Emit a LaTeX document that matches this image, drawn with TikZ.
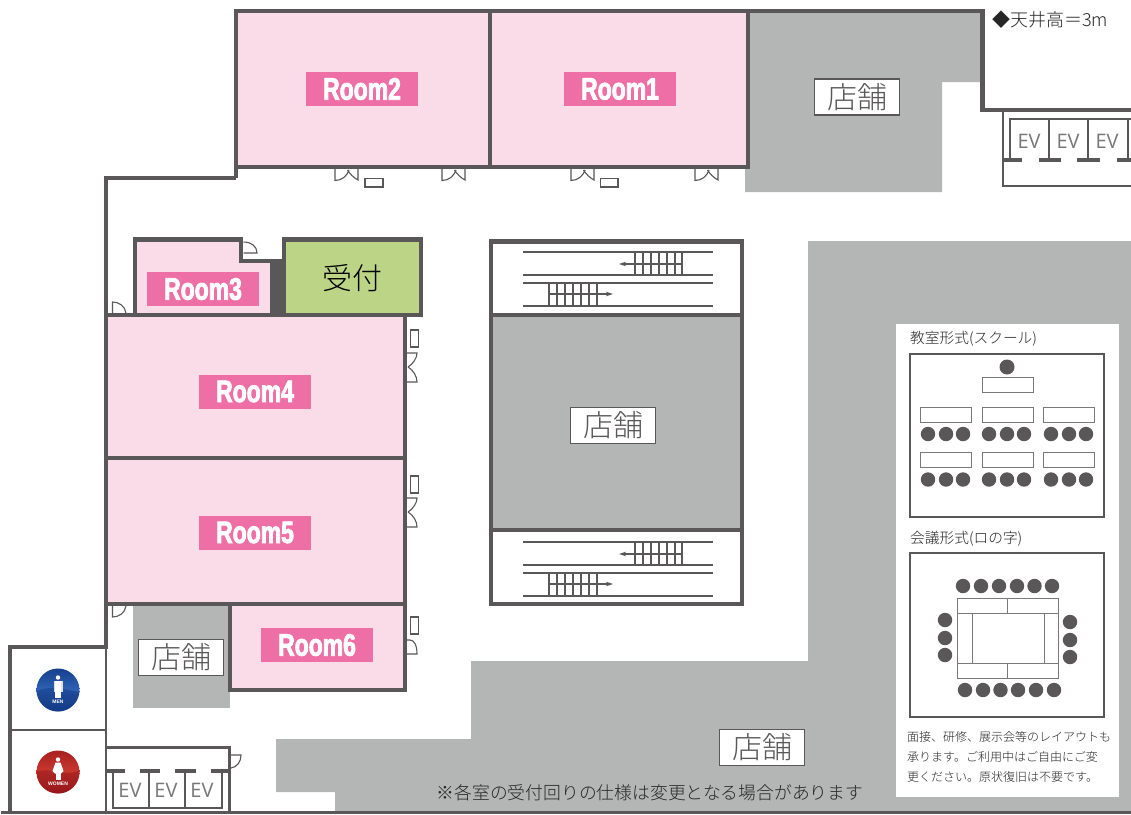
\documentclass[tikz,border=0pt]{standalone}
\usepackage{fontspec}
\usetikzlibrary{arrows.meta}
\setmainfont{Noto Sans CJK JP}
\newfontfamily\lightcjk{Noto Sans CJK JP Light}
\newfontfamily\roomfont[FakeStretch=0.74,FakeBold=2.6,UprightFont=* Bold]{Liberation Sans}
\newfontfamily\evfont{Open Sans}
\definecolor{wall}{HTML}{595757}
\definecolor{shop}{HTML}{B4B5B5}
\definecolor{pinkroom}{HTML}{F9DCE8}
\definecolor{pinklabel}{HTML}{EE6FA6}
\definecolor{recept}{HTML}{BBD486}
\definecolor{evgray}{HTML}{777777}
\definecolor{mena}{HTML}{173F8F}
\definecolor{menb}{HTML}{2F62B4}
\definecolor{menc}{HTML}{143A86}
\definecolor{wma}{HTML}{A8201F}
\definecolor{wmb}{HTML}{C8392F}
\definecolor{wmc}{HTML}{98171C}
\tikzset{
  x=1pt,y=-1pt,
  wallline/.style={draw=wall,line width=4.5pt},
  thinwall/.style={draw=wall,line width=2.5pt},
  roomshape/.style={fill=pinkroom,draw=wall,line width=4.5pt},
  door/.style={draw=wall,line width=1.1pt},
  roomlabel/.style={fill=pinklabel,text=white,minimum width=112pt,minimum height=34pt,inner sep=0pt,font=\roomfont\fontsize{31}{31}\selectfont},
  shoplabel/.style={fill=white,draw=wall,line width=1.8pt,text=wall,minimum width=85pt,minimum height=36pt,inner sep=0pt,font=\lightcjk\fontsize{30}{30}\selectfont},
  evlabel/.style={text=evgray,inner sep=0pt,font=\evfont\fontsize{20}{20}\selectfont},
  seat/.style={fill=wall,draw=none},
  desk/.style={draw=wall!80,fill=white,line width=1pt},
  stairline/.style={draw=wall,line width=2pt},
  tread/.style={draw=wall,line width=1.1pt},
  caption/.style={anchor=west,inner sep=0pt,text=black!85,font=\lightcjk\fontsize{14.7}{14.7}\selectfont},
  noteline/.style={anchor=west,inner sep=0pt,text=black!85,font=\lightcjk\fontsize{12}{12}\selectfont},
}
\newcommand{\doubledoorH}[1]{\draw[door,shift={(#1,169)}] (0,0)--(0,11.5) .. controls (7,11.5) and (12,7) .. (14,1) (23,0)--(23,11) .. controls (19,9) and (15,5) .. (12.5,1);}
\newcommand{\doubledoorV}[1]{\draw[door,shift={(407,#1)}] (0,0)--(10,0) .. controls (10,5) and (6,11) .. (1,14) (0,29)--(10,29) .. controls (10,23) and (6,17) .. (1,14);}
\newcommand{\stairs}[1]{%
  \begin{scope}[shift={(0,#1)}]
    \foreach \yy in {252,275,283,306} \draw[stairline] (523,\yy)--(713,\yy);
    \foreach \xx in {635,643,651,659,667,675,682} \draw[tread] (\xx,252)--(\xx,275);
    \foreach \xx in {549,557,565,573,581,589,597} \draw[tread] (\xx,283)--(\xx,306);
    \draw[tread,-{Stealth[length=7pt,width=4.5pt]}] (682,264)--(619,264);
    \draw[tread,-{Stealth[length=7pt,width=4.5pt]}] (549,294)--(613,294);
  \end{scope}}
\begin{document}
\begin{tikzpicture}
\useasboundingbox (0,0) rectangle (1131,814);
\fill[white] (0,0) rectangle (1131,814);
% shops
\fill[shop] (745,12)--(982,12)--(982,82)--(942,82)--(942,192)--(745,192)--cycle;
\fill[shop] (808,241)--(1131,241)--(1131,812)--(335,812)--(335,792)--(276,792)--(276,739)--(471,739)--(471,661)--(808,661)--cycle;
\fill[shop] (133,604) rectangle (230,708);
\fill[white] (896,324) rectangle (1119,797);
% rooms
\draw[roomshape] (236,11) rectangle (490,167);
\draw[roomshape] (490,11) rectangle (748,167);
\draw[roomshape] (135,239.5)--(241,239.5)--(241,261)--(272,261)--(272,315)--(135,315)--cycle;
\fill[wall] (270,259) rectangle (285,316);
\draw[wallline,fill=recept] (284,239.5) rectangle (421,315);
\draw[roomshape] (106,315) rectangle (405,458);
\draw[roomshape] (106,458) rectangle (405,604);
\draw[roomshape] (230,604) rectangle (405,690);
% outer walls
\draw[wallline,line width=4pt] (236,178)--(106,178)--(106,315);
\draw[wallline,line width=4pt] (106,604)--(106,647)--(10,647)--(10,812);
\draw[thinwall,line width=2pt] (106,647)--(106,812);
\draw[thinwall,line width=1.5pt] (10,730)--(106,730);
\draw[wallline] (748,11)--(982.5,11)--(982.5,110)--(1131,110);
\draw[thinwall] (1,812.5)--(1131,812.5);
\draw[wallline,line width=4pt] (236,167)--(236,178);
% upper elevators
\draw[thinwall] (1003,110)--(1003,186)--(1131,186);
\draw[thinwall,line width=2pt] (1010,160)--(1010,118.5)--(1131,118.5);
\foreach \xx in {1049,1088,1128} \draw[thinwall,line width=2pt] (\xx,118.5)--(\xx,160);
\foreach \aa/\bb in {1003/1022,1039/1061,1077/1100,1117/1131} \draw[wallline,line width=4pt] (\aa,160)--(\bb,160);
\node[evlabel] (evu1) at (1029,141) {EV};
\node[evlabel] (evu2) at (1068,141) {EV};
\node[evlabel] (evu3) at (1107,141) {EV};
% lower elevators
\draw[wallline,line width=3pt] (106,747)--(229,747)--(229,812);
\draw[thinwall,line width=2pt] (113,771)--(113,808)--(222,808)--(222,771);
\foreach \xx in {149,185} \draw[thinwall,line width=2pt] (\xx,771)--(\xx,808);
\foreach \aa/\bb in {107/125,140/160,175/196,211/229} \draw[wallline,line width=4pt] (\aa,771)--(\bb,771);
\node[evlabel] (evl1) at (130,790) {EV};
\node[evlabel] (evl2) at (166,790) {EV};
\node[evlabel] (evl3) at (202,790) {EV};
% central block
\fill[shop] (491,315) rectangle (742,530);
\draw[wallline] (491,241.5) rectangle (742,604);
\draw[wallline] (491,315)--(742,315);
\draw[wallline] (491,530)--(742,530);
\stairs{0}
\stairs{290}
% doors
\doubledoorH{335}
\doubledoorH{442}
\doubledoorH{571}
\doubledoorH{695}
\draw[door,line width=1.3pt] (365,178.5) rectangle (383,187);
\draw[door,line width=1.3pt] (600.5,178.5) rectangle (618,187);
\doubledoorV{353}
\doubledoorV{498}
\draw[door] (407,640)--(410,640) .. controls (414,640) and (417,645) .. (417,654)--(407,654);
\foreach \yy in {330,476,617} \draw[door,line width=1.3pt] (410.5,\yy) rectangle (418.5,\yy+17);
\draw[door] (243.5,242) .. controls (251,242) and (257,246) .. (257,253)--(243.5,253);
\draw[door] (112.5,313)--(112.5,302) .. controls (119,302) and (125,306) .. (126,313);
\draw[door] (112.5,606)--(112.5,617) .. controls (119,617) and (125,613) .. (126,606);
\draw[door] (231,755)--(241,755) .. controls (241,762) and (237,767) .. (231,768);
% room labels
\node[roomlabel] (room2) at (362,89) {Room2};
\node[roomlabel] (room1) at (620,89) {Room1};
\node[roomlabel] (room3) at (203,289) {Room3};
\node[roomlabel] (room4) at (255,391.5) {Room4};
\node[roomlabel] (room5) at (255,532.5) {Room5};
\node[roomlabel] (room6) at (317,645) {Room6};
\node[inner sep=0pt,font=\lightcjk\fontsize{30}{30}\selectfont] (reception) at (352,278) {受付};
% shop labels
\node[shoplabel] (shopa) at (857,97) {店舗};
\node[shoplabel] (shopb) at (613,425.5) {店舗};
\node[shoplabel] (shopc) at (181,657.5) {店舗};
\node[shoplabel] (shopd) at (762,747.5) {店舗};
% ceiling text
\node[anchor=west,inner sep=0pt,text=black!85,font=\lightcjk\fontsize{18}{18}\selectfont] (ceil) at (992,20) {◆天井高＝3m};
% layout: school
\node[caption] (capa) at (910,339) {教室形式(スクール)};
\draw[thinwall,line width=2pt] (910,353.5) rectangle (1103.5,517);
\fill[seat] (1007,367) circle (7.5);
\draw[desk] (982,377.5) rectangle (1033,392.5);
\foreach \yy in {407,452.5}{
  \foreach \xx in {920.5,982,1043.5} \draw[desk] (\xx,\yy) rectangle (\xx+51,\yy+15);
  \foreach \xx in {928,946,963,989,1007,1024,1051,1069,1086} \fill[seat] (\xx,\yy+27) circle (7.2);
}
% layout: conference
\node[caption] (capb) at (910,539) {会議形式(ロの字)};
\draw[thinwall,line width=2pt] (910,553) rectangle (1103.5,717);
\foreach \xx in {963,981,999,1017,1034.5,1052} \fill[seat] (\xx,586) circle (7.2);
\foreach \xx in {965,983,1000.5,1018,1036,1054} \fill[seat] (\xx,690) circle (7.2);
\foreach \yy in {620,638,655} \fill[seat] (945,\yy) circle (7.2);
\foreach \yy in {622,640,657} \fill[seat] (1070,\yy) circle (7.2);
\draw[desk] (957,598.5) rectangle (1058,678);
\draw[desk] (957,613)--(1058,613) (957,663)--(1058,663) (972,613)--(972,663) (1044,613)--(1044,663) (1007,598.5)--(1007,613) (1007,663)--(1007,678);
% note
\node[noteline] (notea) at (907,737) {面接、研修、展示会等のレイアウトも};
\node[noteline] (noteb) at (907,757) {承ります。ご利用中はご自由にご変};
\node[noteline] (notec) at (907,777) {更ください。原状復旧は不要です。};
\node[inner sep=0pt,text=black!85,font=\lightcjk\fontsize{17.8}{17.8}\selectfont] (bottomnote) at (650,793) {※各室の受付回りの仕様は変更となる場合があります};
% restroom icons
\shade[top color=mena,bottom color=menc,middle color=menb] (58,690) circle (21.5);
\shade[top color=wma,bottom color=wmc,middle color=wmb] (58,772) circle (21.5);
\begin{scope}
  \clip (58,690) circle (21.5);
  \fill[menc,opacity=.55] (36,692) .. controls (50,684) and (66,690) .. (80,692) -- (80,712) -- (36,712) -- cycle;
\end{scope}
\begin{scope}
  \clip (58,772) circle (21.5);
  \fill[wmc,opacity=.55] (36,772) .. controls (50,766) and (66,778) .. (80,770) -- (80,794) -- (36,794) -- cycle;
\end{scope}
% men figure
\fill[white] (58,677.5) circle (2.2);
\fill[white!88!black] (53.5,680.5) rectangle (55,691.5);
\fill[white!88!black] (61,680.5) rectangle (62.5,691.5);
\fill[white] (55.3,680.5) rectangle (60.7,691.5);
\fill[white] (55.3,691) rectangle (57.6,698);
\fill[white] (58.4,691) rectangle (60.7,698);
\node[inner sep=0pt,text=white,font=\fontspec{Liberation Sans}\bfseries\fontsize{5}{5}\selectfont] (men) at (58,702) {MEN};
% women figure
\fill[white] (58,759.5) circle (2.2);
\fill[white] (55.5,762.5)--(60.5,762.5)--(63.5,771)--(52.5,771)--cycle;
\fill[white] (52.5,771)--(63.5,771)--(61,773.5)--(55,773.5)--cycle;
\fill[white] (55.5,773) rectangle (57.6,780);
\fill[white] (58.4,773) rectangle (60.5,780);
\node[inner sep=0pt,text=white,font=\fontspec{Liberation Sans}\bfseries\fontsize{5}{5}\selectfont] (women) at (58,784) {WOMEN};
\end{tikzpicture}
\end{document}
